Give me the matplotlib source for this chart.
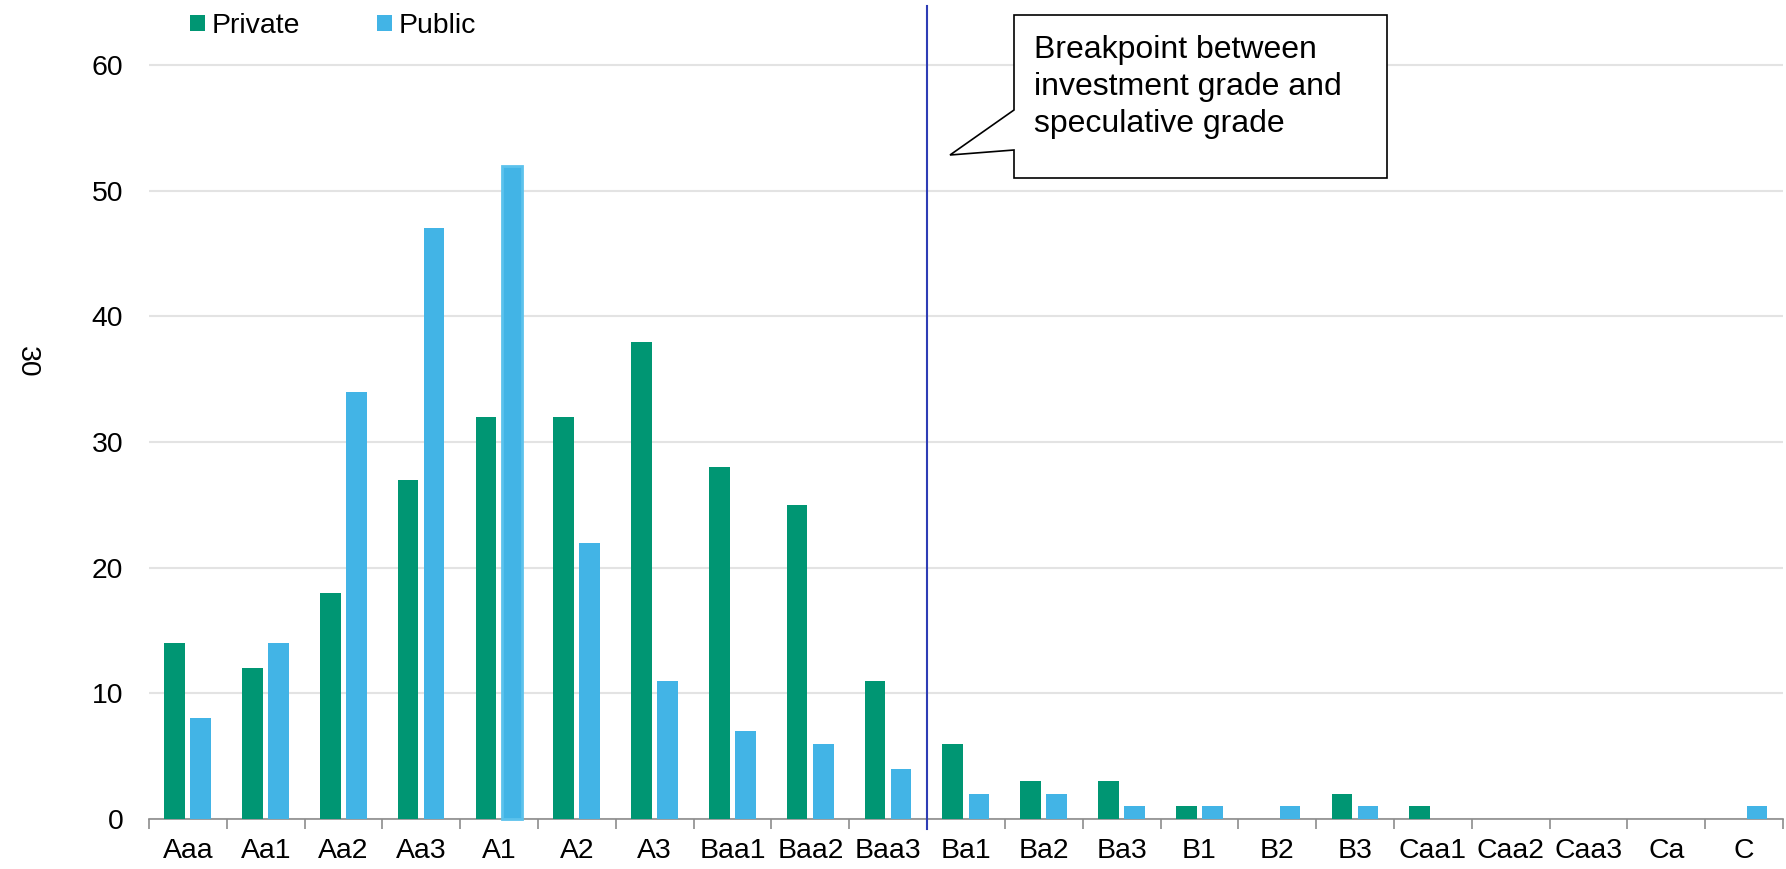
import matplotlib.pyplot as plt
import numpy as np
from matplotlib.patches import Polygon

plt.rcParams['font.family'] = ['Liberation Sans', 'DejaVu Sans']

ratings = ["Aaa", "Aa1", "Aa2", "Aa3", "A1", "A2", "A3", "Baa1", "Baa2", "Baa3",
           "Ba1", "Ba2", "Ba3", "B1", "B2", "B3", "Caa1", "Caa2", "Caa3", "Ca", "C"]
private = [14, 12, 18, 27, 32, 32, 38, 28, 25, 11, 6, 3, 3, 1, 0, 2, 1, 0, 0, 0, 0]
public = [8, 14, 34, 47, 52, 22, 11, 7, 6, 4, 2, 2, 1, 1, 1, 1, 0, 0, 0, 0, 1]
y_ticks = [0, 10, 20, 30, 40, 50, 60]
breakpoint_after = "Baa3"
note = "Breakpoint between\ninvestment grade and\nspeculative grade"

green = "#009673"
blue = "#42B4E6"
W, H = 1786, 869
fs = 20.4

fig = plt.figure(figsize=(W / 100, H / 100), dpi=100)
ax = fig.add_axes([149 / W, (H - 819) / H, (1783 - 149) / W, (819 - 6) / H])

x = np.arange(len(ratings))
bw = 0.265
ax.bar(x - 0.17, private, bw, color=green, label="Private", zorder=3)
pub = ax.bar(x + 0.165, public, bw, color=blue, label="Public", zorder=3)
# the A1 public bar looks selected in the original
sel = pub[ratings.index("A1")]
sel.set_edgecolor("#5CC2EC")
sel.set_linewidth(2)
sel.set_clip_on(False)

ax.set_xlim(-0.5, len(ratings) - 0.5)
ax.set_ylim(0, 64.7)
ax.set_yticks(y_ticks)
ax.yaxis.grid(True, color="#E3E3E3", linewidth=1.5, zorder=0)
ax.tick_params(axis="y", length=0, labelsize=fs, pad=18.5)
ax.set_xticks(x)
ax.set_xticklabels(ratings)
ax.set_xticks(np.arange(len(ratings) + 1) - 0.5, minor=True)
ax.tick_params(axis="x", which="major", length=0, labelsize=fs, pad=14)
ax.tick_params(axis="x", which="minor", length=7, width=1.2, color="#8C8C8C")
for s in ["top", "right", "left"]:
    ax.spines[s].set_visible(False)
ax.spines["bottom"].set_color("#8C8C8C")
ax.spines["bottom"].set_linewidth(1.2)
ax.set_axisbelow(True)

xb = ratings.index(breakpoint_after) + 0.5
ax.plot([xb, xb], [-0.8, 64.7], color="#2E3DB5", linewidth=1.5, clip_on=False, zorder=4)

fig.text(27 / W, 1 - 362 / H, "30", rotation=-90, fontsize=fs, ha="center", va="center")

ax.legend(loc="upper left", bbox_to_anchor=(190 / W, 1 - 13 / H), bbox_transform=fig.transFigure,
          ncol=2, frameon=False, fontsize=fs, handlelength=0.52, handleheight=0.52,
          handletextpad=0.25, columnspacing=2.7, borderaxespad=0, borderpad=0)

# callout box
pts = [(1014, 15), (1387, 15), (1387, 178), (1014, 178), (1014, 150), (950, 155), (1014, 110)]
poly = Polygon([(px / W, 1 - py / H) for px, py in pts], closed=True, transform=fig.transFigure,
               facecolor="white", edgecolor="black", linewidth=1.2, zorder=5)
fig.patches.append(poly)
fig.text(1034 / W, 1 - 35 / H, note, fontsize=23, va="top", ha="left", linespacing=1.3, zorder=6)

fig.savefig("out.png", dpi=100)
